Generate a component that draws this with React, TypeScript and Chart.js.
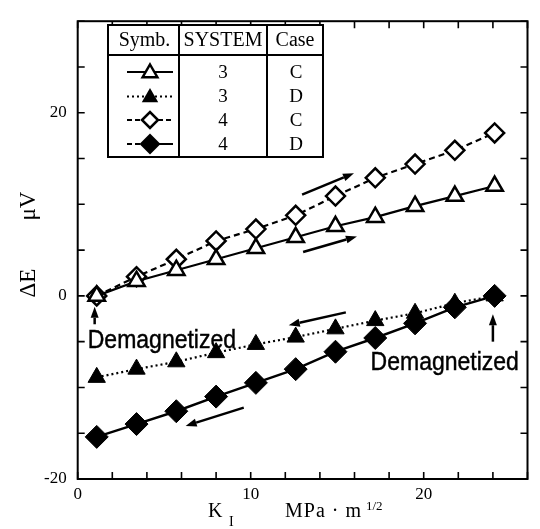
import React, { useEffect, useRef } from 'react';
import { Chart, registerables } from 'chart.js';

Chart.register(...registerables);

// ---- data ----
const kI = [1.1, 3.4, 5.7, 8.0, 10.3, 12.6, 14.9, 17.2, 19.5, 21.8, 24.1];
const sys3CaseC = [0, 1.6, 2.8, 4.0, 5.2, 6.4, 7.6, 8.6, 9.8, 10.9, 12.0];
const sys3CaseD = [-8.9, -8.0, -7.2, -6.2, -5.3, -4.5, -3.6, -2.7, -1.9, -0.8, 0];
const sys4CaseC = [0, 2.1, 4.0, 6.0, 7.3, 8.8, 10.9, 12.9, 14.4, 15.9, 17.8];
const sys4CaseD = [-15.4, -14.0, -12.6, -11.0, -9.5, -8.0, -6.1, -4.6, -3.0, -1.25, 0];

const xTickLabels = [0, 10, 20];
const yTickLabels = [-20, 0, 20];

const legendHeader = ['Symb.', 'SYSTEM', 'Case'];
const legendSystems = ['3', '3', '4', '4'];
const legendCases = ['C', 'D', 'C', 'D'];

// annotation arrows in data units: tail x, tail y, head x, head y
const arrowTails = [
  [12.97, 11.06], [13.03, 4.79], [15.5, -1.8], [9.6, -12.2], [0.98, -3.1], [24.0, -5.0],
];
const arrowHeads = [
  [15.97, 13.4], [16.14, 6.49], [12.2, -3.2], [6.24, -14.2], [0.98, -1.2], [24.0, -2.0],
];
const noteTexts = ['Demagnetized', 'Demagnetized'];
const notePositions = [[0.58, -5.74], [16.93, -8.05]];

const SERIF = "'Liberation Serif', 'Times New Roman', serif";
const SANS = "'Liberation Sans', Arial, sans-serif";

const pts = (ys: number[]) => kI.map((x, i) => ({ x, y: ys[i] }));

function triPath(ctx: CanvasRenderingContext2D, x: number, y: number, r: number) {
  ctx.beginPath();
  ctx.moveTo(x, y - r);
  ctx.lineTo(x + 0.866 * r, y + 0.5 * r);
  ctx.lineTo(x - 0.866 * r, y + 0.5 * r);
  ctx.closePath();
}
function diaPath(ctx: CanvasRenderingContext2D, x: number, y: number, r: number) {
  ctx.beginPath();
  ctx.moveTo(x - r, y);
  ctx.lineTo(x, y - r);
  ctx.lineTo(x + r, y);
  ctx.lineTo(x, y + r);
  ctx.closePath();
}

const decor = {
  id: 'decor',
  afterDatasetsDraw(chart: any) {
    const { ctx, chartArea: a, scales } = chart;
    const xs = scales.x;
    const ys = scales.y;
    ctx.save();
    ctx.strokeStyle = '#000';
    ctx.fillStyle = '#000';
    ctx.lineWidth = 2;
    ctx.setLineDash([]);
    // frame
    ctx.strokeRect(a.left, a.top, a.right - a.left, a.bottom - a.top);
    // inward ticks
    const tl = 7;
    ctx.lineWidth = 1.6;
    xs.ticks.forEach((t: any) => {
      const px = xs.getPixelForValue(t.value);
      ctx.beginPath();
      ctx.moveTo(px, a.bottom); ctx.lineTo(px, a.bottom - tl);
      ctx.moveTo(px, a.top); ctx.lineTo(px, a.top + tl);
      ctx.stroke();
    });
    ys.ticks.forEach((t: any) => {
      const py = ys.getPixelForValue(t.value);
      ctx.beginPath();
      ctx.moveTo(a.left, py); ctx.lineTo(a.left + tl, py);
      ctx.moveTo(a.right, py); ctx.lineTo(a.right - tl, py);
      ctx.stroke();
    });

    // arrows
    arrowTails.forEach((tail, i) => {
      const head = arrowHeads[i];
      const x0 = xs.getPixelForValue(tail[0]);
      const y0 = ys.getPixelForValue(tail[1]);
      const x1 = xs.getPixelForValue(head[0]);
      const y1 = ys.getPixelForValue(head[1]);
      const ang = Math.atan2(y1 - y0, x1 - x0);
      const hl = 11, hw = 4;
      const bx = x1 - Math.cos(ang) * hl;
      const by = y1 - Math.sin(ang) * hl;
      ctx.lineWidth = 2.5;
      ctx.beginPath();
      ctx.moveTo(x0, y0);
      ctx.lineTo(bx, by);
      ctx.stroke();
      ctx.beginPath();
      ctx.moveTo(x1, y1);
      ctx.lineTo(bx - Math.sin(ang) * hw, by + Math.cos(ang) * hw);
      ctx.lineTo(bx + Math.sin(ang) * hw, by - Math.cos(ang) * hw);
      ctx.closePath();
      ctx.fill();
    });

    // notes
    noteTexts.forEach((txt, i) => {
      const px = xs.getPixelForValue(notePositions[i][0]);
      const py = ys.getPixelForValue(notePositions[i][1]);
      ctx.save();
      ctx.translate(px, py);
      ctx.scale(1, 1.15);
      ctx.font = `23px ${SANS}`;
      ctx.textAlign = 'left';
      ctx.textBaseline = 'alphabetic';
      ctx.fillText(txt, 0, 0);
      ctx.lineWidth = 0.4;
      ctx.strokeText(txt, 0, 0);
      ctx.restore();
    });

    // legend table
    const L = 108, R = 323, T = 25, H = 55, B = 157, C1 = 179, C2 = 267;
    ctx.fillStyle = '#fff';
    ctx.fillRect(L, T, R - L, B - T);
    ctx.fillStyle = '#000';
    ctx.lineWidth = 2;
    ctx.strokeRect(L, T, R - L, B - T);
    ctx.beginPath();
    ctx.moveTo(L, H); ctx.lineTo(R, H);
    ctx.moveTo(C1, T); ctx.lineTo(C1, B);
    ctx.moveTo(C2, T); ctx.lineTo(C2, B);
    ctx.stroke();
    ctx.font = `20px ${SERIF}`;
    ctx.textAlign = 'center';
    ctx.textBaseline = 'middle';
    const hx = [(L + C1) / 2 + 1, (C1 + C2) / 2, (C2 + R) / 2];
    legendHeader.forEach((h, i) => ctx.fillText(h, hx[i], 41));
    const rowY = [72, 96.5, 120, 144];
    ctx.font = `19px ${SERIF}`;
    legendSystems.forEach((s, i) => {
      ctx.fillText(s, hx[1], rowY[i] + 1);
      ctx.fillText(legendCases[i], hx[2] + 1, rowY[i] + 1);
    });
    const sx = 150, lx0 = 127, lx1 = 173;
    const dashes = [[[], []], [[2, 3], [2, 3]], [[5, 3], [5, 3]], [[5, 3], []]];
    rowY.forEach((yy, i) => {
      ctx.lineWidth = 2;
      ctx.setLineDash(dashes[i][0]);
      ctx.beginPath(); ctx.moveTo(lx0, yy); ctx.lineTo(sx, yy); ctx.stroke();
      ctx.setLineDash(dashes[i][1]);
      ctx.beginPath(); ctx.moveTo(sx, yy); ctx.lineTo(lx1, yy); ctx.stroke();
      ctx.setLineDash([]);
      if (i === 0) { triPath(ctx, sx, yy + 1, 8.5); ctx.fillStyle = '#fff'; ctx.fill(); ctx.lineWidth = 2.5; ctx.stroke(); }
      if (i === 1) { triPath(ctx, sx, yy + 1, 9.5); ctx.fillStyle = '#000'; ctx.fill(); }
      if (i === 2) { diaPath(ctx, sx, yy, 8); ctx.fillStyle = '#fff'; ctx.fill(); ctx.lineWidth = 2.5; ctx.stroke(); }
      if (i === 3) { diaPath(ctx, sx, yy, 10.5); ctx.fillStyle = '#000'; ctx.fill(); }
      ctx.fillStyle = '#000';
    });

    // y axis title (rotated)
    ctx.save();
    ctx.translate(29, 0);
    ctx.rotate(-Math.PI / 2);
    ctx.font = `23px ${SERIF}`;
    ctx.textAlign = 'center';
    ctx.textBaseline = 'middle';
    ctx.fillText('\u0394E', -283, 0);
    ctx.fillText('\u03bcV', -206, 0);
    ctx.restore();

    // x axis title
    ctx.textAlign = 'left';
    ctx.textBaseline = 'alphabetic';
    ctx.font = `20px ${SERIF}`;
    ctx.fillText('K', 208, 517);
    ctx.font = `14px ${SERIF}`;
    ctx.fillText('I', 229, 526);
    ctx.font = `20px ${SERIF}`;
    (ctx as any).letterSpacing = '1px';
    ctx.fillText('MPa \u00b7 m', 285, 517);
    (ctx as any).letterSpacing = '0px';
    ctx.font = `13px ${SERIF}`;
    ctx.fillText('1/2', 366, 510);
    ctx.restore();
  },
};

export default function App() {
  const ref = useRef<HTMLCanvasElement | null>(null);
  useEffect(() => {
    if (!ref.current) return;
    const chart = new Chart(ref.current, {
      type: 'line',
      data: {
        datasets: [
          {
            label: '3 C',
            data: pts(sys3CaseC),
            borderColor: '#000',
            borderWidth: 2.2,
            pointStyle: 'triangle',
            pointRadius: 9.5,
            pointBackgroundColor: '#fff',
            pointBorderColor: '#000',
            pointBorderWidth: 2.5,
          },
          {
            label: '3 D',
            data: pts(sys3CaseD),
            borderColor: '#000',
            borderWidth: 2.2,
            borderDash: [2, 3],
            pointStyle: 'triangle',
            pointRadius: 10,
            pointBackgroundColor: '#000',
            pointBorderColor: '#000',
            pointBorderWidth: 1,
          },
          {
            label: '4 C',
            data: pts(sys4CaseC),
            borderColor: '#000',
            borderWidth: 2.2,
            borderDash: [6, 4],
            pointStyle: 'rectRot',
            pointRadius: 9.5,
            pointBackgroundColor: '#fff',
            pointBorderColor: '#000',
            pointBorderWidth: 2.5,
          },
          {
            label: '4 D',
            data: pts(sys4CaseD),
            borderColor: '#000',
            borderWidth: 2.4,
            pointStyle: 'rectRot',
            pointRadius: 11.5,
            pointBackgroundColor: '#000',
            pointBorderColor: '#000',
            pointBorderWidth: 1,
          },
        ],
      },
      options: {
        responsive: false,
        animation: false,
        events: [],
        layout: { padding: { left: 0, right: 2.7, top: 9, bottom: 0 } },
        plugins: { legend: { display: false }, tooltip: { enabled: false } },
        scales: {
          x: {
            type: 'linear',
            min: 0,
            max: 26,
            grid: { display: false, drawTicks: false },
            border: { display: false },
            ticks: {
              stepSize: 2,
              padding: 5,
              color: '#000',
              font: { family: SERIF, size: 17 },
              callback: (v: any) => (xTickLabels.includes(Number(v)) ? String(v) : ''),
              maxRotation: 0,
              autoSkip: false,
            },
            afterFit: (s: any) => { s.height = 50; },
          },
          y: {
            type: 'linear',
            min: -20,
            max: 30,
            grid: { display: false, drawTicks: false },
            border: { display: false },
            ticks: {
              stepSize: 5,
              padding: 11,
              color: '#000',
              font: { family: SERIF, size: 17 },
              callback: (v: any) => (yTickLabels.includes(Number(v)) ? String(v) : ''),
              autoSkip: false,
            },
            afterFit: (s: any) => { s.width = 77.7; },
          },
        },
      },
      plugins: [decor],
    });
    return () => chart.destroy();
  }, []);
  return (
    <div style={{ position: 'fixed', left: 0, top: 0, width: 540, height: 529, background: '#fff' }}>
      <canvas ref={ref} width={540} height={529} style={{ display: 'block' }} />
    </div>
  );
}
